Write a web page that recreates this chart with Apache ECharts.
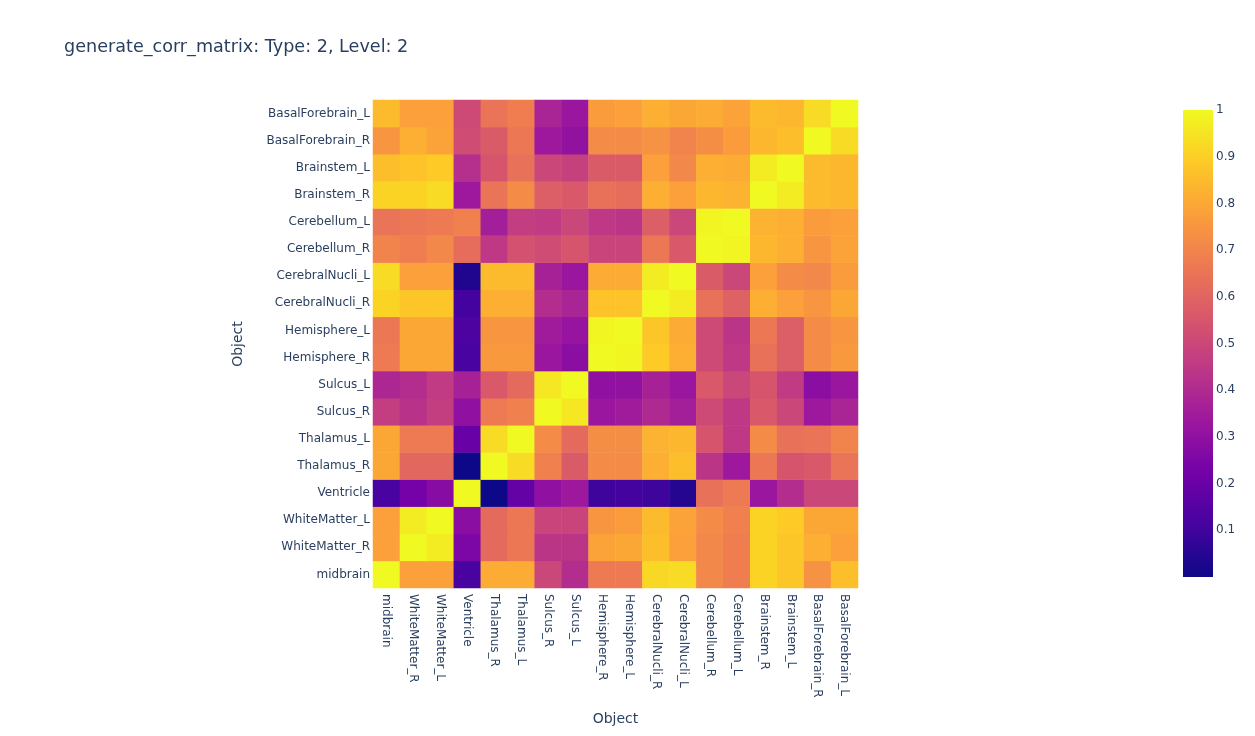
<!DOCTYPE html>
<html>
<head>
<meta charset="utf-8">
<script src="https://cdn.jsdelivr.net/npm/echarts@6/dist/echarts.min.js"></script>
<style>
html,body{margin:0;padding:0;background:#fff;}
#chart{width:1255px;height:736px;}
</style>
</head>
<body>
<div id="chart"></div>
<script>
// Categories (x axis left->right; y axis bottom->top)
const objects = ['midbrain','WhiteMatter_R','WhiteMatter_L','Ventricle','Thalamus_R','Thalamus_L','Sulcus_R','Sulcus_L','Hemisphere_R','Hemisphere_L','CerebralNucli_R','CerebralNucli_L','Cerebellum_R','Cerebellum_L','Brainstem_R','Brainstem_L','BasalForebrain_R','BasalForebrain_L'];

// Row values, each in x-category order
const BasalForebrain_L = [0.85,0.78,0.78,0.51,0.65,0.68,0.38,0.33,0.77,0.78,0.82,0.80,0.81,0.79,0.85,0.84,0.93,1.00];
const BasalForebrain_R = [0.75,0.82,0.79,0.52,0.57,0.66,0.34,0.31,0.72,0.72,0.74,0.70,0.73,0.77,0.84,0.86,1.00,0.93];
const Brainstem_L      = [0.86,0.87,0.89,0.42,0.55,0.64,0.50,0.48,0.57,0.57,0.78,0.71,0.82,0.81,0.97,1.00,0.85,0.84];
const Brainstem_R      = [0.91,0.91,0.93,0.34,0.65,0.72,0.58,0.56,0.64,0.63,0.82,0.78,0.84,0.83,1.00,0.97,0.85,0.84];
const Cerebellum_L     = [0.65,0.66,0.67,0.69,0.36,0.47,0.46,0.50,0.45,0.44,0.58,0.50,0.99,1.00,0.83,0.82,0.77,0.78];
const Cerebellum_R     = [0.70,0.68,0.71,0.63,0.45,0.54,0.52,0.55,0.49,0.49,0.66,0.56,1.00,0.99,0.84,0.82,0.75,0.79];
const CerebralNucli_L  = [0.93,0.78,0.78,0.04,0.85,0.85,0.37,0.33,0.81,0.81,0.97,1.00,0.57,0.50,0.78,0.72,0.71,0.77];
const CerebralNucli_R  = [0.91,0.88,0.88,0.11,0.82,0.82,0.41,0.38,0.87,0.87,1.00,0.97,0.64,0.59,0.82,0.78,0.75,0.80];
const Hemisphere_L     = [0.66,0.80,0.80,0.13,0.75,0.75,0.35,0.32,0.99,1.00,0.88,0.81,0.51,0.44,0.66,0.58,0.72,0.75];
const Hemisphere_R     = [0.67,0.80,0.80,0.12,0.76,0.76,0.33,0.29,1.00,0.99,0.89,0.82,0.51,0.45,0.64,0.58,0.72,0.76];
const Sulcus_L         = [0.39,0.41,0.46,0.37,0.56,0.62,0.96,1.00,0.30,0.31,0.37,0.33,0.56,0.50,0.55,0.46,0.29,0.33];
const Sulcus_R         = [0.47,0.43,0.47,0.30,0.67,0.69,1.00,0.96,0.33,0.35,0.40,0.36,0.51,0.45,0.56,0.50,0.34,0.38];
const Thalamus_L       = [0.80,0.67,0.67,0.20,0.93,1.00,0.72,0.62,0.73,0.73,0.83,0.84,0.55,0.45,0.72,0.64,0.65,0.70];
const Thalamus_R       = [0.80,0.61,0.61,0.003,1.00,0.93,0.69,0.57,0.72,0.72,0.82,0.86,0.44,0.34,0.66,0.55,0.56,0.65];
const Ventricle        = [0.12,0.23,0.28,1.00,0.003,0.19,0.30,0.34,0.10,0.11,0.10,0.05,0.64,0.67,0.33,0.41,0.50,0.50];
const WhiteMatter_L    = [0.78,0.97,1.00,0.29,0.62,0.66,0.49,0.49,0.75,0.77,0.85,0.79,0.72,0.69,0.91,0.89,0.80,0.80];
const WhiteMatter_R    = [0.78,1.00,0.97,0.25,0.62,0.66,0.44,0.44,0.79,0.80,0.86,0.78,0.71,0.68,0.91,0.88,0.82,0.78];
const midbrain         = [1.00,0.78,0.78,0.12,0.81,0.81,0.50,0.41,0.67,0.67,0.92,0.93,0.71,0.68,0.91,0.88,0.74,0.86];

const rowsByName = {BasalForebrain_L, BasalForebrain_R, Brainstem_L, Brainstem_R, Cerebellum_L, Cerebellum_R,
  CerebralNucli_L, CerebralNucli_R, Hemisphere_L, Hemisphere_R, Sulcus_L, Sulcus_R, Thalamus_L, Thalamus_R,
  Ventricle, WhiteMatter_L, WhiteMatter_R, midbrain};

const colorbarTicks = [0.1,0.2,0.3,0.4,0.5,0.6,0.7,0.8,0.9,1];
const plasma = ['#0d0887','#46039f','#7201a8','#9c179e','#bd3786','#d8576b','#ed7953','#fb9f3a','#fdca26','#f0f921'];

const heatData = [];
let zmin = Infinity;
objects.forEach((rowName, yi) => {
  rowsByName[rowName].forEach((v, xi) => {
    heatData.push([xi, yi, v]);
    if (v < zmin) zmin = v;
  });
});

const font = 'Verdana, "DejaVu Sans", sans-serif';
const txt = '#2a3f5f';

const chart = echarts.init(document.getElementById('chart'), null, {renderer: 'canvas'});
chart.setOption({
  backgroundColor: '#fff',
  animation: false,
  title: {
    text: 'generate_corr_matrix: Type: 2, Level: 2',
    left: 59, top: 33,
    textStyle: {fontFamily: font, fontSize: 17.6, fontWeight: 'normal', color: txt}
  },
  grid: [
    {left: 373, top: 100, width: 485, height: 488, containLabel: false},
    {left: 1183, top: 110, width: 30, height: 467, containLabel: false}
  ],
  xAxis: [
    {
      type: 'category', gridIndex: 0, data: objects,
      axisLine: {show: false}, axisTick: {show: false}, splitLine: {show: false},
      axisLabel: {rotate: -90, margin: 6, fontFamily: font, fontSize: 12, color: txt, interval: 0},
      name: 'Object', nameLocation: 'middle', nameGap: 124,
      nameTextStyle: {fontFamily: font, fontSize: 14, color: txt}
    },
    {
      type: 'category', gridIndex: 1, data: ['cb'], show: false
    }
  ],
  yAxis: [
    {
      type: 'category', gridIndex: 0, data: objects,
      axisLine: {show: false}, axisTick: {show: false}, splitLine: {show: false},
      axisLabel: {margin: 3, fontFamily: font, fontSize: 12, color: txt, interval: 0},
      name: 'Object', nameLocation: 'middle', nameGap: 128,
      nameTextStyle: {fontFamily: font, fontSize: 14, color: txt}
    },
    {
      type: 'value', gridIndex: 1, position: 'right', min: 0, max: 1, interval: 0.1,
      axisLine: {show: false}, axisTick: {show: false}, splitLine: {show: false},
      axisLabel: {
        margin: 3, fontFamily: font, fontSize: 12, color: txt,
        formatter: v => {
          const t = colorbarTicks.find(c => Math.abs(c - v) < 1e-6);
          return t === undefined ? '' : String(t);
        }
      }
    }
  ],
  visualMap: {
    show: false, type: 'continuous', seriesIndex: 0, dimension: 2,
    min: zmin, max: 1, inRange: {color: plasma}
  },
  series: [
    {
      type: 'heatmap', xAxisIndex: 0, yAxisIndex: 0, data: heatData,
      itemStyle: {borderWidth: 0},
      emphasis: {disabled: true}
    },
    {
      type: 'bar', xAxisIndex: 1, yAxisIndex: 1, data: [1], barWidth: '100%', silent: true,
      itemStyle: {
        color: {
          type: 'linear', x: 0, y: 1, x2: 0, y2: 0,
          colorStops: plasma.map((c, i) => ({offset: i / (plasma.length - 1), color: c}))
        }
      }
    }
  ]
});
</script>
</body>
</html>
